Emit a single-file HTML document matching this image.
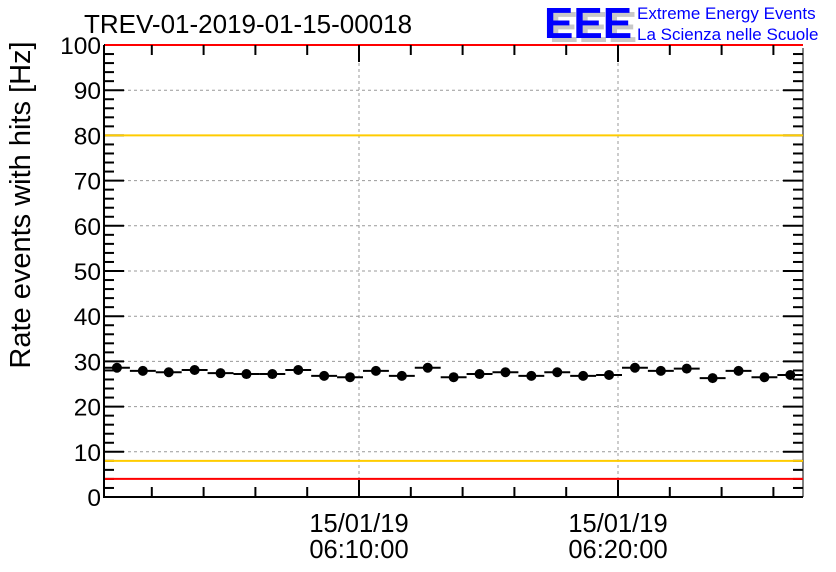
<!DOCTYPE html>
<html><head><meta charset="utf-8"><style>
html,body{margin:0;padding:0;background:#fff;}
svg{display:block;font-family:"Liberation Sans",Arial,sans-serif;}
</style></head><body>
<svg id="chart" width="836" height="572" viewBox="0 0 836 572"></svg>
<script>
const values = [28.6, 27.9, 27.6, 28.1, 27.4, 27.2, 27.2, 28.1, 26.8, 26.5, 27.9, 26.8, 28.6, 26.5, 27.2, 27.6, 26.8, 27.6, 26.8, 27.0, 28.6, 27.9, 28.4, 26.3, 27.9, 26.5, 27.0];
const yTicks = [0,10,20,30,40,50,60,70,80,90,100];
const xTickMinutes = [10, 20];
const xTickDate = ["15/01/19","15/01/19"];
const xTickTime = ["06:10:00","06:20:00"];
const thresholds = [{v:100,c:"#ff0000"},{v:80,c:"#ffcc00"},{v:8,c:"#ffcc00"},{v:4,c:"#ff0000"}];
const startMin = 0.154;

const L=104, R=803, T=45, B=497;
const pxPerMin = 25.9;
const xS = t => 359 + (t-10)*pxPerMin;
const yS = v => B - (v/100)*(B-T);
const svg = document.getElementById('chart');
const NS = "http://www.w3.org/2000/svg";
function mk(tag, attrs, parent){const e=document.createElementNS(NS,tag);for(const k in attrs)e.setAttribute(k,attrs[k]);(parent||svg).appendChild(e);return e;}

yTicks.forEach(v=>{ if(v>0&&v<100){
  const g=mk('line',{x1:L,x2:R,y1:yS(v),y2:yS(v),stroke:'#999','stroke-dasharray':'3,3','stroke-width':1});
  
  
}});
xTickMinutes.forEach(t=>{
  const g=mk('line',{x1:xS(t),x2:xS(t),y1:T,y2:B,stroke:'#999','stroke-dasharray':'3,3','stroke-width':1});
  
  
});
const fr=mk('path',{d:`M${L},${T}V${B}H${R}`,stroke:'#000','stroke-width':2,fill:'none'});


mk('line',{x1:R,x2:R,y1:T+3,y2:B,stroke:'#000','stroke-width':1});
for(let v=0;v<=100;v+=2){
  const major=v%10===0, len=major?20:10;
  mk('line',{x1:L,x2:L+len,y1:yS(v),y2:yS(v),stroke:'#000','stroke-width':2});
  mk('line',{x1:R,x2:R-len,y1:yS(v),y2:yS(v),stroke:'#000','stroke-width':2});
}
thresholds.forEach(th=>{
  const l=mk('line',{x1:L+1,x2:R,y1:yS(th.v),y2:yS(th.v),stroke:th.c,'stroke-width':2});
  
  
});
yTicks.forEach(v=>{
  const t=mk('text',{x:L-3,y:yS(v)+9,'text-anchor':'end','font-size':24.5,fill:'#000'});
  t.textContent=v;
  
  
});
for(let m=2;m<=26;m+=2){
  const x=xS(m); if(x<=L||x>=R) continue;
  const major=m%10===0, len=major?17:10;
  mk('line',{x1:x,x2:x,y1:B,y2:B-len,stroke:'#000','stroke-width':2});
  mk('line',{x1:x,x2:x,y1:T,y2:T+len,stroke:'#000','stroke-width':2});
}
xTickMinutes.forEach((m,i)=>{
  const t1=mk('text',{x:xS(m),y:532,'text-anchor':'middle','font-size':25.5,fill:'#000'});
  t1.textContent=xTickDate[i];
  
  
  const t2=mk('text',{x:xS(m),y:558,'text-anchor':'middle','font-size':25.5,fill:'#000'});
  t2.textContent=xTickTime[i];
  
  
});
values.forEach((v,i)=>{
  const x0=xS(startMin+i), x1=xS(startMin+i+1), xc=(x0+x1)/2, y=yS(v);
  const l=mk('line',{x1:x0,x2:x1,y1:y,y2:y,stroke:'#000','stroke-width':2});
  
  
  const c=mk('circle',{cx:xc,cy:y,r:5,fill:'#000'});
  
  
});
</script>
<svg style="position:absolute;left:0;top:0" width="836" height="572">
<text x="84" y="33" font-size="26" font-family="Liberation Sans, sans-serif">TREV-01-2019-01-15-00018</text>
<text transform="translate(30,205) rotate(-90)" text-anchor="middle" font-size="29" font-family="Liberation Sans, sans-serif">Rate events with hits [Hz]</text>
<g font-family="Liberation Sans, sans-serif" font-weight="bold" font-size="44">
<text x="549" y="42" fill="#c8c8c8">EEE</text>
<text x="544" y="38" fill="#0000ff">EEE</text>
</g>
<text x="637" y="19" font-size="17" fill="#0000ff" font-family="Liberation Sans, sans-serif">Extreme Energy Events</text>
<text x="637" y="40" font-size="17" fill="#0000ff" font-family="Liberation Sans, sans-serif">La Scienza nelle Scuole</text>
</svg>
</body></html>
